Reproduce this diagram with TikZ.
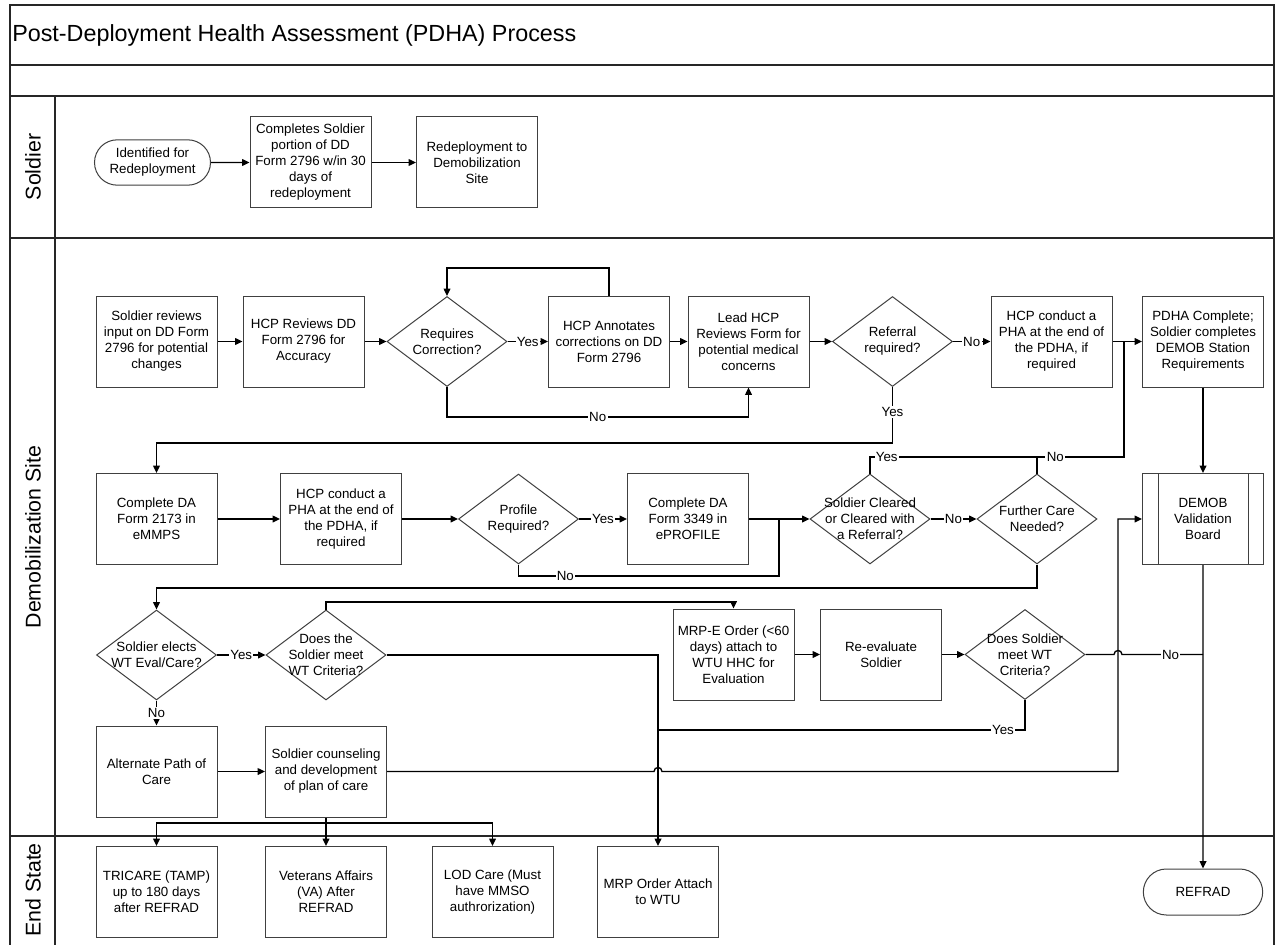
\documentclass[tikz,border=0pt]{standalone}
\usepackage{fontspec}
\setmainfont{Liberation Sans}
\usetikzlibrary{arrows.meta,shapes.geometric,shapes.misc,calc}

\begin{document}
\begin{tikzpicture}[x=0.75pt,y=-0.75pt,
  frame/.style={draw=black!85, line width=0.8pt},
  boxtext/.style={font=\fontsize{10}{12}\selectfont, align=center},
  proc/.style={boxtext, draw=black!75, line width=0.75pt, rectangle,
    minimum width=90.75pt, minimum height=68.25pt, inner sep=1pt, fill=white},
  term/.style={boxtext, draw=black!75, line width=0.75pt, rounded rectangle,
    minimum width=89pt, minimum height=34pt, inner sep=1pt, fill=white},
  dec/.style={draw=black!75, line width=0.75pt, diamond,
    minimum width=90pt, minimum height=67.5pt, inner sep=0pt, fill=white},
  dtxt/.style={boxtext, inner sep=0pt},
  conn/.style={draw=black, line width=1pt},
  arr/.style={conn, -{Triangle[length=5.5pt,width=5pt]}},
  lbl/.style={fill=white, inner sep=1pt, font=\fontsize{10}{12}\selectfont},
  lane/.style={rotate=90, font=\fontsize{16}{19}\selectfont, inner sep=0pt}
]
\useasboundingbox (0,0) rectangle (1278,945);

% ---- swimlane frame ----
\draw[frame] (10,945) -- (10,5) -- (1274,5) -- (1274,945);
\draw[frame] (10,65) -- (1274,65);
\draw[frame] (10,96) -- (1274,96);
\draw[frame] (10,238) -- (1274,238);
\draw[frame] (10,836) -- (1274,836);
\draw[frame] (55,96) -- (55,945);

\node[anchor=west, inner sep=0pt, font=\fontsize{17.5}{21}\selectfont] (title) at (12,35)
  {Post-Deployment Health Assessment (PDHA) Process};
\node[lane] (laneS) at (33,167) {Soldier};
\node[lane] (laneD) at (33,537) {Demobilization Site};
\node[lane] (laneE) at (33,890) {End State};

% ---- Soldier lane ----
\node[term] (t1) at (152.5,162.5) {Identified for\\Redeployment};
\node[proc] (s2) at (310.5,162.5) {Completes Soldier\\portion of DD\\Form 2796 w/in 30\\days of\\redeployment};
\node[proc] (s3) at (477,162.5) {Redeployment to\\Demobilization\\Site};

% ---- Demobilization lane, first row ----
\node[proc] (a1) at (156.5,341.5) {Soldier reviews\\input on DD Form\\2796 for potential\\changes};
\node[proc] (a2) at (303.5,341.5) {HCP Reviews DD\\Form 2796 for\\Accuracy};
\node[dec]  (d1) at (447,341.5) {};
\node[dtxt] (d1t) at (d1) {Requires\\Correction?};
\node[proc] (a3) at (609,341.5) {HCP Annotates\\corrections on DD\\Form 2796};
\node[proc] (a4) at (748.5,341.5) {Lead HCP\\Reviews Form for\\potential medical\\concerns};
\node[dec]  (d2) at (892.5,341.5) {};
\node[dtxt] (d2t) at (d2) {Referral\\required?};
\node[proc] (a5) at (1051.5,341.5) {HCP conduct a\\PHA at the end of\\the PDHA, if\\required};
\node[proc] (a6) at (1203,341.5) {PDHA Complete;\\Soldier completes\\DEMOB Station\\Requirements};

% ---- second row ----
\node[proc] (b1) at (156.5,519) {Complete DA\\Form 2173 in\\eMMPS};
\node[proc] (b2) at (341,519) {HCP conduct a\\PHA at the end of\\the PDHA, if\\required};
\node[dec]  (d3) at (518.5,519) {};
\node[dtxt] (d3t) at (d3) {Profile\\Required?};
\node[proc] (b3) at (688,519) {Complete DA\\Form 3349 in\\ePROFILE};
\node[dec]  (d4) at (870,519) {};
\node[dtxt] (d4t) at (d4) {Soldier Cleared\\or Cleared with\\a Referral?};
\node[dec]  (d5) at (1037,519) {};
\node[dtxt] (d5t) at (d5) {Further Care\\Needed?};
\node[proc] (b4) at (1203,519) {DEMOB\\Validation\\Board};
\draw[draw=black!75, line width=0.75pt] ([xshift=12pt]b4.north west) -- ([xshift=12pt]b4.south west);
\draw[draw=black!75, line width=0.75pt] ([xshift=-12pt]b4.north east) -- ([xshift=-12pt]b4.south east);

% ---- third row ----
\node[dec]  (d6) at (156.5,655) {};
\node[dtxt] (d6t) at (d6) {Soldier elects\\WT Eval/Care?};
\node[dec]  (d7) at (326,655) {};
\node[dtxt] (d7t) at (d7) {Does the\\Soldier meet\\WT Criteria?};
\node[proc] (c1) at (733.5,654.5) {MRP-E Order (<60\\days) attach to\\WTU HHC for\\Evaluation};
\node[proc] (c2) at (881,654.5) {Re-evaluate\\Soldier};
\node[dec]  (d8) at (1025,654.5) {};
\node[dtxt] (d8t) at (d8) {Does Soldier\\meet WT\\Criteria?};

% ---- fourth row ----
\node[proc] (e1) at (156.5,771.5) {Alternate Path of\\Care};
\node[proc] (e2) at (326,771.5) {Soldier counseling\\and development\\of plan of care};

% ---- End State lane ----
\node[proc] (f1) at (156.5,892) {TRICARE (TAMP)\\up to 180 days\\after REFRAD};
\node[proc] (f2) at (326,892) {Veterans Affairs\\(VA) After\\REFRAD};
\node[proc] (f3) at (492.5,892) {LOD Care (Must\\have MMSO\\authrorization)};
\node[proc] (f4) at (658,892) {MRP Order Attach\\to WTU};
\node[term, minimum width=91.5pt, minimum height=34.5pt] (r) at (1203,892) {REFRAD};

% ---- bend points ----
\coordinate (lp) at (447,268);
\coordinate (nb) at (447,417);
\coordinate (yr) at (892.5,443);
\coordinate (pn) at (518.5,576);
\coordinate (jn) at (779,519);
\coordinate (cy) at (1037,457);
\coordinate (ca) at (1124,457);
\coordinate (jy) at (1124,341.5);
\coordinate (fb) at (1037,588);
\coordinate (dt) at (326,602);
\coordinate (ys) at (658,730);
\coordinate (hopA) at (1118,654.5);
\coordinate (jr) at (1203,654.5);
\coordinate (hopB) at (658,771.5);
\coordinate (cb) at (1118,771.5);
\coordinate (sp) at (326,823);

% ---- connectors: Soldier lane ----
\draw[arr] (t1) -- (s2);
\draw[arr] (s2) -- (s3);

% ---- connectors: first row ----
\draw[arr] (a1) -- (a2);
\draw[arr] (a2) -- (d1.west);
\draw[arr] (d1.east) -- node[lbl]{Yes} (a3.west);
\draw[arr] (a3.north) |- (lp) -- (d1.north);
\draw[arr] (d1.south) -- (nb) -| node[lbl,pos=0.25]{No} (a4.south);
\draw[arr] (a3) -- (a4);
\draw[arr] (a4) -- (d2.west);
\draw[arr] (d2.east) -- node[lbl]{No} (a5.west);
\draw[arr] (a5) -- (a6);
\draw[arr] (d2.south) -- node[lbl,pos=0.45]{Yes} (yr) -| (b1.north);
\draw[arr] (a6) -- (b4);

% ---- connectors: second row ----
\draw[arr] (b1) -- (b2);
\draw[arr] (b2) -- (d3.west);
\draw[arr] (d3.east) -- node[lbl]{Yes} (b3.west);
\draw[conn] (d3.south) -- (pn) -| node[lbl,pos=0.09]{No} (jn);
\draw[arr] (b3) -- (d4.west);
\draw[arr] (d4.east) -- node[lbl]{No} (d5.west);
\draw[conn] (d4.north) |- node[lbl,pos=0.55]{Yes} (cy);
\draw[conn] (d5.north) -- (cy) -- node[lbl,pos=0.21]{No} (ca) -- (jy);
\draw[arr] (d5.south) -- (fb) -| (d6.north);
\draw[arr] (b4) -- (r);

% ---- connectors: third and fourth rows ----
\draw[arr] (d6.east) -- node[lbl]{Yes} (d7.west);
\draw[arr] (d6.south) -- node[lbl]{No} (e1.north);
\draw[arr] (d7.north) -- (dt) -| (c1.north);
\draw[arr] (d7.east) -| (f4.north);
\draw[arr] (c1) -- (c2);
\draw[arr] (c2) -- (d8.west);
\draw[conn] (d8.east) -- ([xshift=-3pt]hopA)
  .. controls ([xshift=-3pt,yshift=4pt]hopA) and ([xshift=3pt,yshift=4pt]hopA) .. ([xshift=3pt]hopA)
  -- node[lbl,pos=0.6]{No} (jr);
\draw[conn] (d8.south) |- node[lbl,pos=0.53]{Yes} (ys);
\draw[arr] (e1) -- (e2);
\draw[arr] (e2.east) -- ([xshift=-3pt]hopB)
  .. controls ([xshift=-3pt,yshift=4pt]hopB) and ([xshift=3pt,yshift=4pt]hopB) .. ([xshift=3pt]hopB)
  -- (cb) |- (b4.west);
\draw[arr] (e2.south) -- (f2.north);
\draw[arr] (sp) -| (f1.north);
\draw[arr] (sp) -| (f3.north);
\end{tikzpicture}
\end{document}
